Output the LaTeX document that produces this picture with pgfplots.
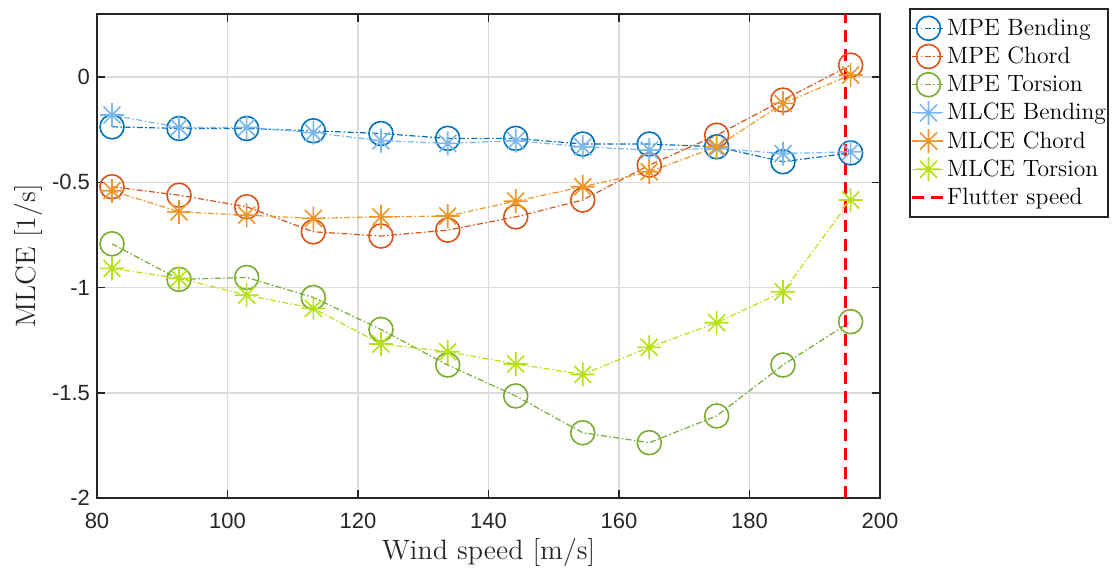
\documentclass[border=0pt]{standalone}
\usepackage{fontspec}
\usepackage{pgfplots}
\pgfplotsset{compat=1.18}
\newfontfamily\tickfont{Liberation Sans}

\definecolor{mpeB}{RGB}{0,114,189}
\definecolor{mpeC}{RGB}{217,83,25}
\definecolor{mpeT}{RGB}{119,172,48}
\definecolor{mlceB}{RGB}{120,182,235}
\definecolor{mlceC}{RGB}{237,150,40}
\definecolor{mlceT}{RGB}{182,225,20}
\definecolor{axgray}{RGB}{38,38,38}

% 8-armed asterisk like MATLAB '*'
\pgfdeclareplotmark{ast8}{%
  \pgfpathmoveto{\pgfqpoint{-\pgfplotmarksize}{0pt}}%
  \pgfpathlineto{\pgfqpoint{\pgfplotmarksize}{0pt}}%
  \pgfpathmoveto{\pgfqpoint{0pt}{-\pgfplotmarksize}}%
  \pgfpathlineto{\pgfqpoint{0pt}{\pgfplotmarksize}}%
  \pgfpathmoveto{\pgfqpoint{-0.707\pgfplotmarksize}{-0.707\pgfplotmarksize}}%
  \pgfpathlineto{\pgfqpoint{0.707\pgfplotmarksize}{0.707\pgfplotmarksize}}%
  \pgfpathmoveto{\pgfqpoint{-0.707\pgfplotmarksize}{0.707\pgfplotmarksize}}%
  \pgfpathlineto{\pgfqpoint{0.707\pgfplotmarksize}{-0.707\pgfplotmarksize}}%
  \pgfusepathqstroke}

\pgfplotsset{
  mpe/.style={line width=0.6pt, dash pattern=on 3pt off 1.2pt on 0.8pt off 1.2pt,
    mark=o, mark size=6pt, mark options={solid, line width=0.8pt}},
  mlce/.style={line width=0.6pt, dash pattern=on 3pt off 1.2pt on 0.8pt off 1.2pt,
    mark=ast8, mark size=6pt, mark options={solid, line width=0.8pt}},
}

\begin{document}
\begin{tikzpicture}
\useasboundingbox (-48.5pt,-37.5pt) rectangle (507.5pt,249pt);
\begin{axis}[
  at={(0,0)}, anchor=south west,
  scale only axis, width=391.5pt, height=242pt,
  xmin=80, xmax=200, ymin=-2, ymax=0.3,
  xtick={80,100,...,200}, xticklabels={80,100,120,140,160,180,200},
  ytick={-2,-1.5,-1,-0.5,0}, yticklabels={-2,-1.5,-1,-0.5,0},
  tick align=inside, xtick pos=both, ytick pos=both,
  major tick length=4pt,
  every tick/.style={axgray, line width=0.8pt},
  axis line style={axgray, line width=1pt},
  grid=major, grid style={gray!28, line width=0.8pt},
  tick label style={font=\tickfont\fontsize{11}{11}\selectfont, text=axgray},
  xticklabel style={yshift=-4pt},
  label style={font=\fontsize{14}{16}\selectfont, text=axgray},
  xlabel={Wind speed [m/s]}, ylabel={MLCE [1/s]},
  xlabel style={at={(axis description cs:0.5,-0.1116)}, anchor=center},
  ylabel style={at={(axis description cs:-0.087,0.5)}, anchor=center},
  legend image code/.code={\draw[mark repeat=2,mark phase=2,#1]
    plot coordinates {(0pt,0pt) (8pt,0pt) (16pt,0pt)};},
  legend style={at={(axis description cs:1.037,1.012)}, anchor=north west,
    draw=axgray, line width=1pt, fill=white, inner xsep=0.5pt, inner ysep=2.5pt,
    font=\fontsize{11.8}{14}\selectfont, row sep=0pt,
    nodes={inner xsep=0.6pt},
    /tikz/every even column/.append style={column sep=0pt, text height=8.6pt, text depth=3pt, inner ysep=1.3pt}},
  legend cell align=left,
]
\addplot[mpe, color=mpeB] coordinates {
(82.3,-0.236) (92.57,-0.244) (102.94,-0.244) (113.15,-0.255) (123.52,-0.268) (133.75,-0.291)
(144.17,-0.291) (154.44,-0.318) (164.64,-0.318) (174.97,-0.331) (185.13,-0.402) (195.5,-0.36)
};
\addlegendentry{MPE Bending}
\addplot[mpe, color=mpeC] coordinates {
(82.3,-0.521) (92.57,-0.561) (102.94,-0.616) (113.15,-0.735) (123.52,-0.755) (133.75,-0.727)
(144.17,-0.664) (154.44,-0.584) (164.64,-0.418) (174.97,-0.276) (185.13,-0.109) (195.5,0.057)
};
\addlegendentry{MPE Chord}
\addplot[mpe, color=mpeT] coordinates {
(82.3,-0.792) (92.57,-0.961) (102.94,-0.952) (113.15,-1.047) (123.52,-1.199) (133.75,-1.368)
(144.17,-1.515) (154.44,-1.690) (164.64,-1.737) (174.97,-1.610) (185.13,-1.368) (195.5,-1.162)
};
\addlegendentry{MPE Torsion}
\addplot[mlce, color=mlceB] coordinates {
(82.3,-0.180) (92.57,-0.239) (102.94,-0.239) (113.15,-0.264) (123.52,-0.302) (133.75,-0.315)
(144.17,-0.302) (154.44,-0.331) (164.64,-0.347) (174.97,-0.339) (185.13,-0.363) (195.5,-0.355)
};
\addlegendentry{MLCE Bending}
\addplot[mlce, color=mlceC] coordinates {
(82.3,-0.540) (92.57,-0.640) (102.94,-0.656) (113.15,-0.671) (123.52,-0.664) (133.75,-0.660)
(144.17,-0.589) (154.44,-0.521) (164.64,-0.450) (174.97,-0.331) (185.13,-0.125) (195.5,0.010)
};
\addlegendentry{MLCE Chord}
\addplot[mlce, color=mlceT] coordinates {
(82.3,-0.909) (92.57,-0.956) (102.94,-1.036) (113.15,-1.099) (123.52,-1.268) (133.75,-1.305)
(144.17,-1.363) (154.44,-1.413) (164.64,-1.284) (174.97,-1.167) (185.13,-1.020) (195.5,-0.584)
};
\addlegendentry{MLCE Torsion}
\addplot[red, line width=1.5pt, dash pattern=on 6pt off 3.5pt] coordinates {
(194.7,-2) (194.7,0.3)
};
\addlegendentry{Flutter speed}
\end{axis}
\end{tikzpicture}
\end{document}
